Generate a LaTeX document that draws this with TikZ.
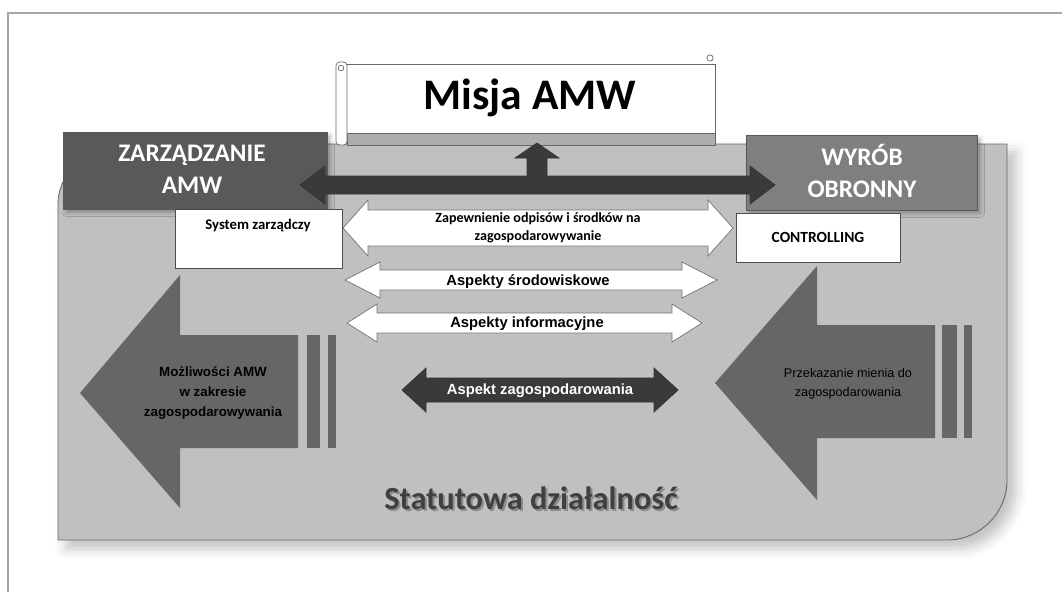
\documentclass[tikz,border=0pt]{standalone}
\usepackage{fontspec}
\setmainfont{Carlito}
\newfontfamily\arialfont{Liberation Sans}
\usetikzlibrary{shadows.blur}
\definecolor{panelgray}{HTML}{C0C0C0}
\definecolor{zarzgray}{HTML}{595959}
\definecolor{wyrobgray}{HTML}{7F7F7F}
\definecolor{darkarrow}{HTML}{3A3A3A}
\definecolor{bigarrowgray}{HTML}{666666}
\definecolor{framegray}{HTML}{A6A6A6}
\tikzset{
  headbox/.style={draw=black!65, line width=0.6pt},
  headtext/.style={text=white, font=\bfseries\fontsize{18}{23}\selectfont, align=center},
  smallbox/.style={draw=black!70, fill=white, line width=0.6pt},
  whitearrow/.style={draw=black!55, fill=white, line width=0.5pt},
  blackarrow/.style={draw=black!80, fill=darkarrow, line width=0.5pt},
  arrowtext/.style={font=\arialfont\bfseries\fontsize{10.5}{12}\selectfont, align=center},
  scrollline/.style={draw=black!60, line width=0.5pt}
}
\begin{document}
\begin{tikzpicture}[x=0.025cm,y=-0.025cm]
\useasboundingbox (0,0) rectangle (1062,592);
\draw[framegray, line width=1.4pt] (8,592) -- (8,13) -- (1062,13);

\draw[fill=panelgray, draw=black!60, line width=0.6pt,
      blur shadow={shadow xshift=6pt, shadow yshift=-6pt, shadow blur radius=8pt, shadow opacity=25}]
  (58,540) -- (58,204) .. controls (58,171) and (91,144) .. (118,144)
  -- (1007,144) -- (1007,480) .. controls (1007,513) and (980,540) .. (947,540) -- cycle;

\draw[headbox, fill=zarzgray, blur shadow={shadow blur radius=3pt, shadow opacity=30}] (63,132) rectangle (327,209);
\draw[headbox, fill=wyrobgray, blur shadow={shadow blur radius=3pt, shadow opacity=30}] (746,135) rectangle (977,210);
\node (zarz) at (192,169) [headtext] {ZARZĄDZANIE\\AMW};
\node (wyrob) at (862,171) [headtext] {WYRÓB\\OBRONNY};

\draw[scrollline, fill=black!32] (347,133) rectangle (715,145);
\draw[scrollline, fill=white] (345,64) rectangle (715,133);
\draw[scrollline, fill=white, rounded corners=2.5pt] (336,62) rectangle (347,145);
\draw[scrollline, fill=white] (341,68) circle (2pt);
\draw[scrollline, fill=white] (710,58) circle (2.2pt);
\node (misja) at (530,98) [font=\bfseries\fontsize{31}{36}\selectfont] {Misja AMW};

\draw[blackarrow] (537,143) -- (559,158) -- (547,158) -- (547,180) -- (527,180) -- (527,158) -- (515,158) -- cycle;
\foreach \L/\R/\y/\s/\h/\k in {300/775/185/9/19/25, 402/678/390/12/22/24}
  \draw[blackarrow] (\L,\y) -- (\L+\k,\y-\h) -- (\L+\k,\y-\s) -- (\R-\k,\y-\s) -- (\R-\k,\y-\h)
    -- (\R,\y) -- (\R-\k,\y+\h) -- (\R-\k,\y+\s) -- (\L+\k,\y+\s) -- (\L+\k,\y+\h) -- cycle;

\draw[smallbox] (175,209) rectangle (342,268);
\draw[smallbox] (736,213) rectangle (900,262);
\node (system) at (258,226) [font=\bfseries\fontsize{10.5}{12}\selectfont] {System zarządczy};
\node (control) at (818,237) [font=\bfseries\fontsize{11}{12}\selectfont] {CONTROLLING};

\foreach \L/\R/\y/\s/\h/\k in {343/733/228/18/28/25, 345/717/280/10/18/35, 347/702/323/10/19/30}
  \draw[whitearrow] (\L,\y) -- (\L+\k,\y-\h) -- (\L+\k,\y-\s) -- (\R-\k,\y-\s) -- (\R-\k,\y-\h)
    -- (\R,\y) -- (\R-\k,\y+\h) -- (\R-\k,\y+\s) -- (\L+\k,\y+\s) -- (\L+\k,\y+\h) -- cycle;

\node (odpisy) at (538,228) [font=\bfseries\fontsize{10}{12.5}\selectfont, align=center]
  {Zapewnienie odpisów i środków na\\zagospodarowywanie};
\node (srodow) at (528,282) [arrowtext] {Aspekty środowiskowe};
\node (inform) at (527,324) [arrowtext] {Aspekty informacyjne};
\node (zagosp) at (540,391) [arrowtext, text=white] {Aspekt zagospodarowania};

\fill[bigarrowgray] (80,393) -- (180,275) -- (180,335) -- (298,335) -- (298,448) -- (180,448) -- (180,508) -- cycle;
\foreach \a/\b in {307/320, 328/336}
  \fill[bigarrowgray] (\a,335) rectangle (\b,448);
\fill[bigarrowgray] (715,383) -- (817,266) -- (817,325) -- (935,325) -- (935,438) -- (817,438) -- (817,500) -- cycle;
\foreach \a/\b in {942/957, 964/972}
  \fill[bigarrowgray] (\a,325) rectangle (\b,438);

\node (mozliw) at (213,393) [font=\arialfont\bfseries\fontsize{9.5}{14}\selectfont, align=center]
  {Możliwości AMW\\w zakresie\\zagospodarowywania};
\node (przekaz) at (848,384) [font=\arialfont\fontsize{9}{13.5}\selectfont, align=center]
  {Przekazanie mienia do\\zagospodarowania};

\node (statshadow) at (533,500) [text=black!45, font=\bfseries\fontsize{23}{26}\selectfont] {Statutowa działalność};
\node (statut) at (531,498) [text=black!75, font=\bfseries\fontsize{23}{26}\selectfont] {Statutowa działalność};
\end{tikzpicture}
\end{document}
